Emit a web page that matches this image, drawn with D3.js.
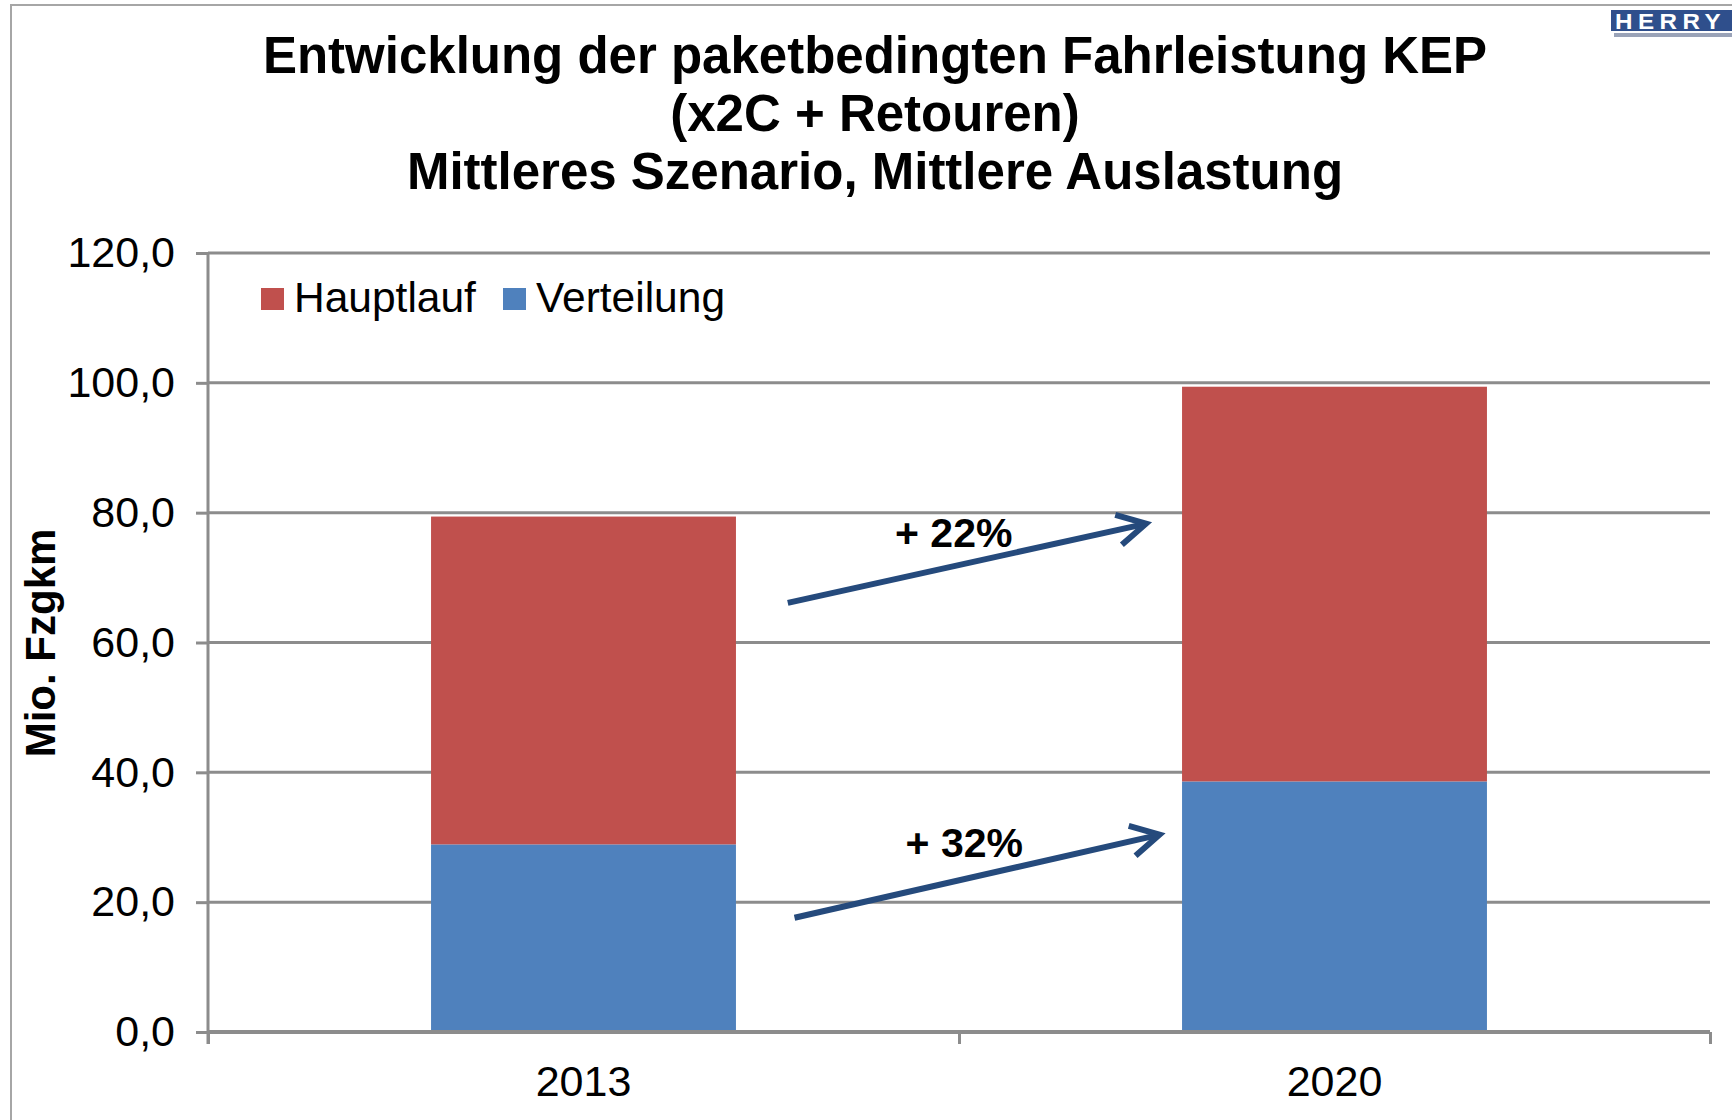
<!DOCTYPE html>
<html>
<head>
<meta charset="utf-8">
<script src="https://cdn.jsdelivr.net/npm/d3@7"></script>
<style>
  html, body { margin: 0; padding: 0; background: #fff; }
  svg { display: block; }
  text { font-family: "Liberation Sans", Arial, sans-serif; }
</style>
</head>
<body>
<svg id="chart" width="1732" height="1120"></svg>
<script>
// ---- data ----
const titleLines = [
  "Entwicklung der paketbedingten Fahrleistung KEP",
  "(x2C + Retouren)",
  "Mittleres Szenario, Mittlere Auslastung"
];
const years = ["2013", "2020"];
const verteilung = [28.9, 38.6];
const hauptlauf = [50.5, 60.8];
const seriesKeys = ["Verteilung", "Hauptlauf"];
const legendKeys = ["Hauptlauf", "Verteilung"];
const yTicks = [0, 20, 40, 60, 80, 100, 120];
const yLabel = "Mio. Fzgkm";
// annotations: growth arrows (x as fraction between the two category centres, y in data units)
const arrowLabels = ["+ 22%", "+ 32%"];
const arrowFrom = [[0.272, 66.1], [0.281, 17.6]];
const arrowTo = [[0.749, 78.3], [0.767, 30.4]];
const labelPos = [[0.493, 74.7], [0.507, 27.0]];

// ---- setup ----
const colors = { Hauptlauf: "#C0504D", Verteilung: "#4F81BD" };
const gridColor = "#8c8c8c";
const arrowColor = "#254A7C";
const svg = d3.select("#chart");
const pLeft = 208, pRight = 1710, pTop = 253, pBottom = 1032;

const table = years.map((yr, i) => ({ year: yr, Verteilung: verteilung[i], Hauptlauf: hauptlauf[i] }));
const stacked = d3.stack().keys(seriesKeys)(table);

const x = d3.scaleBand().domain(years).range([pLeft, pRight]).paddingInner(0.594).paddingOuter(0.297);
const xEdge = d3.scaleLinear().domain([0, years.length]).range([pLeft, pRight]);
const y = d3.scaleLinear().domain([0, 120]).range([pBottom, pTop]);
const deLocale = d3.formatLocale({ decimal: ",", thousands: ".", grouping: [3], currency: ["", " €"] });
const fmt = deLocale.format(".1f");

// outer frame
svg.append("rect").attr("x", 11).attr("y", 5).attr("width", 1740).attr("height", 1130)
  .attr("fill", "none").attr("stroke", "#a6a6a6").attr("stroke-width", 2);

// logo
const logo = svg.append("g");
logo.append("rect").attr("x", 1611).attr("y", 10).attr("width", 130).attr("height", 21).attr("fill", "#2F4F8C");
logo.append("text").attr("x", 1615).attr("y", 29).attr("font-size", 22).attr("font-weight", "bold")
  .attr("fill", "#fff").attr("letter-spacing", 5).attr("transform", "translate(1615,0) scale(1.1,1) translate(-1615,0)")
  .text("HERRY");
logo.append("rect").attr("x", 1614).attr("y", 33).attr("width", 120).attr("height", 4).attr("fill", "#9aa3b8");

// title
svg.append("text").attr("text-anchor", "middle").attr("font-size", 51).attr("font-weight", "bold").attr("fill", "#000")
  .selectAll("tspan").data(titleLines).join("tspan")
  .attr("x", 875).attr("y", (d, i) => 73 + i * 58).text(d => d);

// gridlines
svg.append("g").selectAll("line").data(yTicks.filter(t => t > 0)).join("line")
  .attr("x1", pLeft).attr("x2", pRight).attr("y1", d => y(d)).attr("y2", d => y(d))
  .attr("stroke", gridColor).attr("stroke-width", 3);

// bars
svg.append("g").selectAll("g").data(stacked).join("g")
  .attr("fill", d => colors[d.key])
  .selectAll("rect").data(d => d).join("rect")
  .attr("x", d => x(d.data.year)).attr("width", x.bandwidth())
  .attr("y", d => y(d[1])).attr("height", d => y(d[0]) - y(d[1]));

// y axis
const yAxis = svg.append("g").attr("transform", `translate(${pLeft},0)`)
  .call(d3.axisLeft(y).tickValues(yTicks).tickFormat(fmt).tickSize(12).tickPadding(21));
yAxis.select(".domain").attr("stroke", gridColor).attr("stroke-width", 3).attr("d", `M0,${pTop}V${pBottom + 12}`);
yAxis.selectAll(".tick line").attr("stroke", gridColor).attr("stroke-width", 3);
yAxis.selectAll(".tick text").attr("font-size", 43).attr("fill", "#000")
  .attr("font-family", "'Liberation Sans', Arial, sans-serif");

// x axis (tick marks between categories)
const xAxis = svg.append("g").attr("transform", `translate(0,${pBottom})`)
  .call(d3.axisBottom(xEdge).tickValues(d3.range(years.length + 1)).tickFormat("").tickSize(12));
xAxis.select(".domain").attr("stroke", gridColor).attr("stroke-width", 4).attr("d", `M${pLeft},0H${pRight}`);
xAxis.selectAll(".tick line").attr("stroke", gridColor).attr("stroke-width", 3);

const xLabels = svg.append("g").attr("transform", `translate(0,${pBottom})`)
  .call(d3.axisBottom(x).tickSize(0).tickPadding(33));
xLabels.select(".domain").remove();
xLabels.selectAll(".tick text").attr("font-size", 43).attr("fill", "#000")
  .attr("font-family", "'Liberation Sans', Arial, sans-serif");

// y axis title
svg.append("text").attr("transform", `translate(55,643) rotate(-90)`).attr("text-anchor", "middle")
  .attr("font-size", 42).attr("font-weight", "bold").attr("fill", "#000").text(yLabel);

// legend
const legendX = [261, 503];
const lg = svg.append("g").selectAll("g").data(legendKeys).join("g")
  .attr("transform", (d, i) => `translate(${legendX[i]},288)`);
lg.append("rect").attr("width", 23).attr("height", 22).attr("fill", d => colors[d]);
lg.append("text").attr("x", 33).attr("y", 24).attr("font-size", 42.5).attr("fill", "#000").text(d => d);

// growth arrows
const c0 = x(years[0]) + x.bandwidth() / 2, c1 = x(years[1]) + x.bandwidth() / 2;
const fx = t => c0 + t * (c1 - c0);
const ag = svg.append("g").attr("stroke", arrowColor).attr("stroke-width", 6).attr("fill", "none");
arrowFrom.forEach((p, i) => {
  const x0 = fx(p[0]), y0 = y(p[1]), x1 = fx(arrowTo[i][0]), y1 = y(arrowTo[i][1]);
  const ang = Math.atan2(y1 - y0, x1 - x0);
  const L = 32, h = 0.5;
  const w1 = [x1 - L * Math.cos(ang - h), y1 - L * Math.sin(ang - h)];
  const w2 = [x1 - L * Math.cos(ang + h), y1 - L * Math.sin(ang + h)];
  ag.append("line").attr("x1", x0).attr("y1", y0).attr("x2", x1 - 3 * Math.cos(ang)).attr("y2", y1 - 3 * Math.sin(ang));
  ag.append("path").attr("d", `M${w1[0]},${w1[1]}L${x1},${y1}L${w2[0]},${w2[1]}`)
    .attr("stroke-linejoin", "miter");
});
svg.append("g").selectAll("text").data(arrowLabels).join("text")
  .attr("x", (d, i) => fx(labelPos[i][0])).attr("y", (d, i) => y(labelPos[i][1]))
  .attr("text-anchor", "middle").attr("font-size", 41).attr("font-weight", "bold").attr("fill", "#000")
  .text(d => d);
</script>
</body>
</html>
